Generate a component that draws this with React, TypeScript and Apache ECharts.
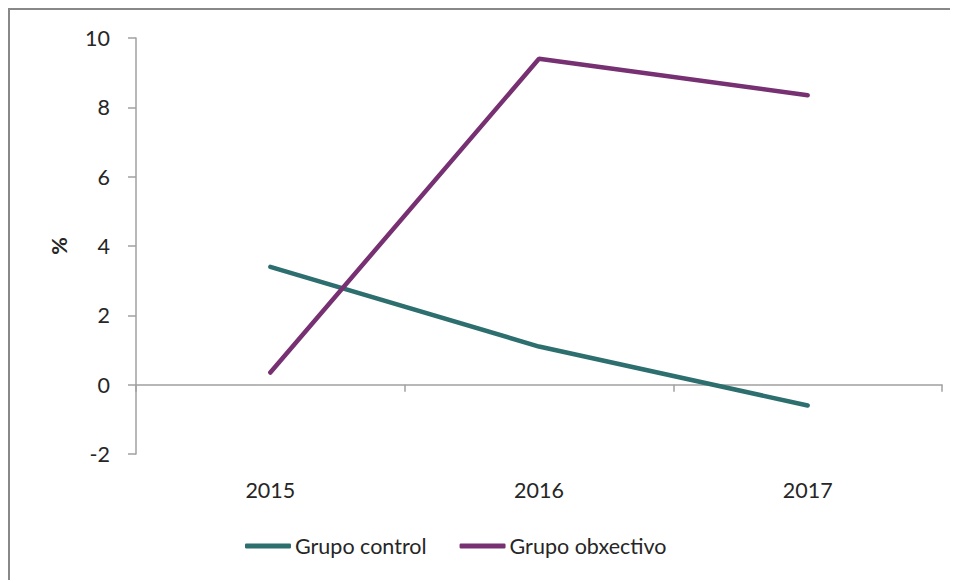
import React, { useEffect, useRef } from "react";
import * as echarts from "echarts";

const years = ["2015", "2016", "2017"];
const grupoControl = [3.4, 1.1, -0.6];
const grupoObxectivo = [0.35, 9.4, 8.35];
const seriesNames = ["Grupo control", "Grupo obxectivo"];

const FONT = "Lato, 'Liberation Sans', sans-serif";
const AXIS_COLOR = "#a0a0a0";
const TEXT_COLOR = "#262626";
const FS = 21.5;

export default function App() {
  const ref = useRef<HTMLDivElement>(null);

  useEffect(() => {
    if (!ref.current) return;
    const chart = echarts.init(ref.current, undefined, { renderer: "svg" });
    chart.setOption({
      animation: false,
      backgroundColor: "#ffffff",
      textStyle: { fontFamily: FONT },
      grid: { left: 126, top: 28, width: 806, height: 416, containLabel: false },
      legend: {
        left: 230,
        top: 520,
        itemWidth: 46,
        itemHeight: 5,
        itemGap: 33,
        icon: "roundRect",
        textStyle: { fontSize: FS, color: TEXT_COLOR, fontFamily: FONT, padding: [0, 0, 0, -1] },
        data: seriesNames,
      },
      xAxis: [
        {
          type: "category",
          data: years,
          boundaryGap: true,
          position: "bottom",
          axisLine: { show: false, onZero: false },
          axisTick: { show: false },
          axisLabel: { fontSize: FS, color: TEXT_COLOR, margin: 25, fontFamily: FONT },
          splitLine: { show: false },
        },
        {
          type: "category",
          data: years,
          boundaryGap: true,
          position: "top",
          axisLine: { show: true, onZero: true, onZeroAxisIndex: 0, lineStyle: { color: AXIS_COLOR, width: 1.5 } },
          axisTick: { show: true, inside: true, length: 7, lineStyle: { color: AXIS_COLOR, width: 1.5 } },
          axisLabel: { show: false },
          splitLine: { show: false },
        },
      ],
      yAxis: {
        type: "value",
        min: -2,
        max: 10,
        interval: 2,
        name: "%",
        nameLocation: "middle",
        nameRotate: 90,
        nameGap: 66,
        nameTextStyle: { fontSize: FS, fontWeight: "bold", color: TEXT_COLOR, fontFamily: FONT },
        axisLine: { show: true, lineStyle: { color: AXIS_COLOR, width: 1.5 } },
        axisTick: { show: true, length: 8, lineStyle: { color: AXIS_COLOR, width: 1.5 } },
        axisLabel: { fontSize: FS, color: TEXT_COLOR, margin: 26, fontFamily: FONT },
        splitLine: { show: false },
      },
      series: [
        {
          name: seriesNames[0],
          type: "line",
          xAxisIndex: 0,
          data: grupoControl,
          showSymbol: false,
          symbol: "none",
          lineStyle: { color: "#2d6e6e", width: 4.5, cap: "round" },
          itemStyle: { color: "#2d6e6e" },
        },
        {
          name: seriesNames[1],
          type: "line",
          xAxisIndex: 0,
          data: grupoObxectivo,
          showSymbol: false,
          symbol: "none",
          lineStyle: { color: "#773071", width: 4.5, cap: "round" },
          itemStyle: { color: "#773071" },
        },
      ],
    });
    return () => chart.dispose();
  }, []);

  return (
    <div
      style={{
        width: 948,
        height: 570,
        borderLeft: "2px solid #888",
        borderTop: "2px solid #888",
        background: "#fff",
      }}
    >
      <div ref={ref} style={{ width: 948, height: 570 }} />
    </div>
  );
}
